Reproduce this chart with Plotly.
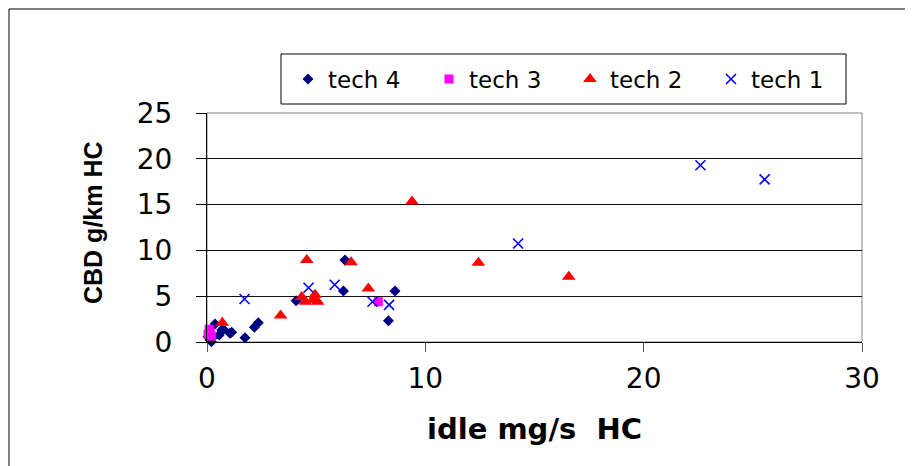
import plotly.graph_objects as go

# ---- data ----
tech4_x = [6.32, 6.25, 8.61, 8.31, 4.08, 2.35, 2.17, 1.74, 1.13, 0.67, 0.37, 0.14, 0.05, 0.56, 0.75, 0.29, 1.05, 0.20]
tech4_y = [8.94, 5.56, 5.56, 2.33, 4.51, 2.10, 1.60, 0.47, 1.06, 1.31, 1.96, 0.22, 0.58, 0.76, 1.38, 0.58, 0.95, 0.03]

tech3_x = [0.10, 0.15, 0.20, 0.05, 7.85]
tech3_y = [1.40, 1.00, 0.65, 0.85, 4.40]

tech2_x = [0.70, 3.37, 4.34, 4.50, 4.95, 4.85, 5.07, 4.57, 6.60, 7.39, 9.39, 12.43, 16.57]
tech2_y = [2.10, 2.90, 4.90, 4.40, 5.15, 4.60, 4.40, 8.94, 8.70, 5.85, 15.35, 8.65, 7.12]

tech1_x = [1.72, 4.65, 5.85, 7.58, 8.34, 14.25, 22.60, 25.54]
tech1_y = [4.70, 5.92, 6.25, 4.40, 4.05, 10.75, 19.30, 17.75]

x_ticks = [0, 10, 20, 30]
y_ticks = [0, 5, 10, 15, 20, 25]

x_title = "idle mg/s\u00a0\u00a0HC"
y_title = "CBD g/km HC"

FONT = "DejaVu Sans, Arial, sans-serif"
FONT_Y = "Liberation Sans, Arial, sans-serif"

fig = go.Figure()
fig.add_trace(go.Scatter(x=tech4_x, y=tech4_y, mode="markers", name="tech 4",
                         marker=dict(symbol="diamond", size=8.5, color="#000080"), cliponaxis=False))
fig.add_trace(go.Scatter(x=tech3_x, y=tech3_y, mode="markers", name="tech 3",
                         marker=dict(symbol="square", size=9, color="#FF00FF"), cliponaxis=False))
fig.add_trace(go.Scatter(x=tech2_x, y=tech2_y, mode="markers", name="tech 2",
                         marker=dict(symbol="triangle-up", size=12, color="#FF0000"), cliponaxis=False))
fig.add_trace(go.Scatter(x=tech1_x, y=tech1_y, mode="markers", name="tech 1",
                         marker=dict(symbol="x-thin", size=10, color="#0000FF",
                                     line=dict(width=1.6, color="#0000FF")), cliponaxis=False))

OFF = 8                      # page body margin of the html page
W, H = 913 - OFF, 466 - OFF
L, R, T, B = 207 - OFF, 862 - OFF, 113 - OFF, 342 - OFF
pw, ph = R - L, B - T


def px(xs):   # screen x -> paper x
    return (xs - OFF - L) / pw


def py(ys):   # screen y -> paper y
    return 1 - (ys - OFF - T) / ph


fig.update_layout(
    width=W, height=H,
    margin=dict(l=L, r=W - R, t=T, b=H - B),
    paper_bgcolor="white", plot_bgcolor="white",
    font=dict(family=FONT, color="black"),
    showlegend=True,
    legend=dict(
        orientation="h",
        x=px(288), y=py(79),
        xanchor="left", yanchor="middle",
        borderwidth=0, bgcolor="rgba(0,0,0,0)",
        font=dict(size=23, family=FONT),
        entrywidth=96, entrywidthmode="pixels",
        itemwidth=30,
        traceorder="normal",
    ),
    xaxis=dict(
        range=[0, 30], tickvals=x_ticks, ticktext=[str(v) for v in x_ticks],
        showgrid=False, zeroline=False,
        showline=True, linecolor="black", linewidth=1,
        ticks="outside", ticklen=9, tickcolor="#555",
        tickfont=dict(size=28), ticklabelstandoff=2,
        automargin=False,
    ),
    yaxis=dict(
        range=[0, 25], tickvals=y_ticks, ticktext=[str(v) for v in y_ticks],
        showgrid=True, gridcolor="#111", gridwidth=1,
        zeroline=False,
        showline=True, linecolor="black", linewidth=1,
        ticks="outside", ticklen=10, tickcolor="black",
        tickfont=dict(size=28), ticklabelstandoff=18,
        automargin=False,
    ),
    annotations=[
        dict(text=x_title, xref="paper", yref="paper", x=0.5, y=py(429),
             xanchor="center", yanchor="middle", showarrow=False,
             font=dict(size=29, family=FONT, weight="bold")),
        dict(text=y_title, xref="paper", yref="paper", x=px(93), y=py(223),
             xanchor="center", yanchor="middle", showarrow=False, textangle=-90,
             font=dict(size=25, family=FONT_Y, weight="bold")),
    ],
    shapes=[
        # gray plot-area border (top/right)
        dict(type="rect", xref="paper", yref="paper", x0=0, x1=1, y0=0, y1=1,
             line=dict(color="#808080", width=1), layer="below"),
        # legend box
        dict(type="rect", xref="paper", yref="paper",
             x0=px(281), x1=px(846), y0=py(104), y1=py(54),
             line=dict(color="black", width=1)),
        # outer chart border
        dict(type="rect", xref="paper", yref="paper",
             x0=px(9), x1=px(940), y0=py(500), y1=py(9),
             line=dict(color="black", width=1)),
    ],
)

fig.write_html("out.html")
